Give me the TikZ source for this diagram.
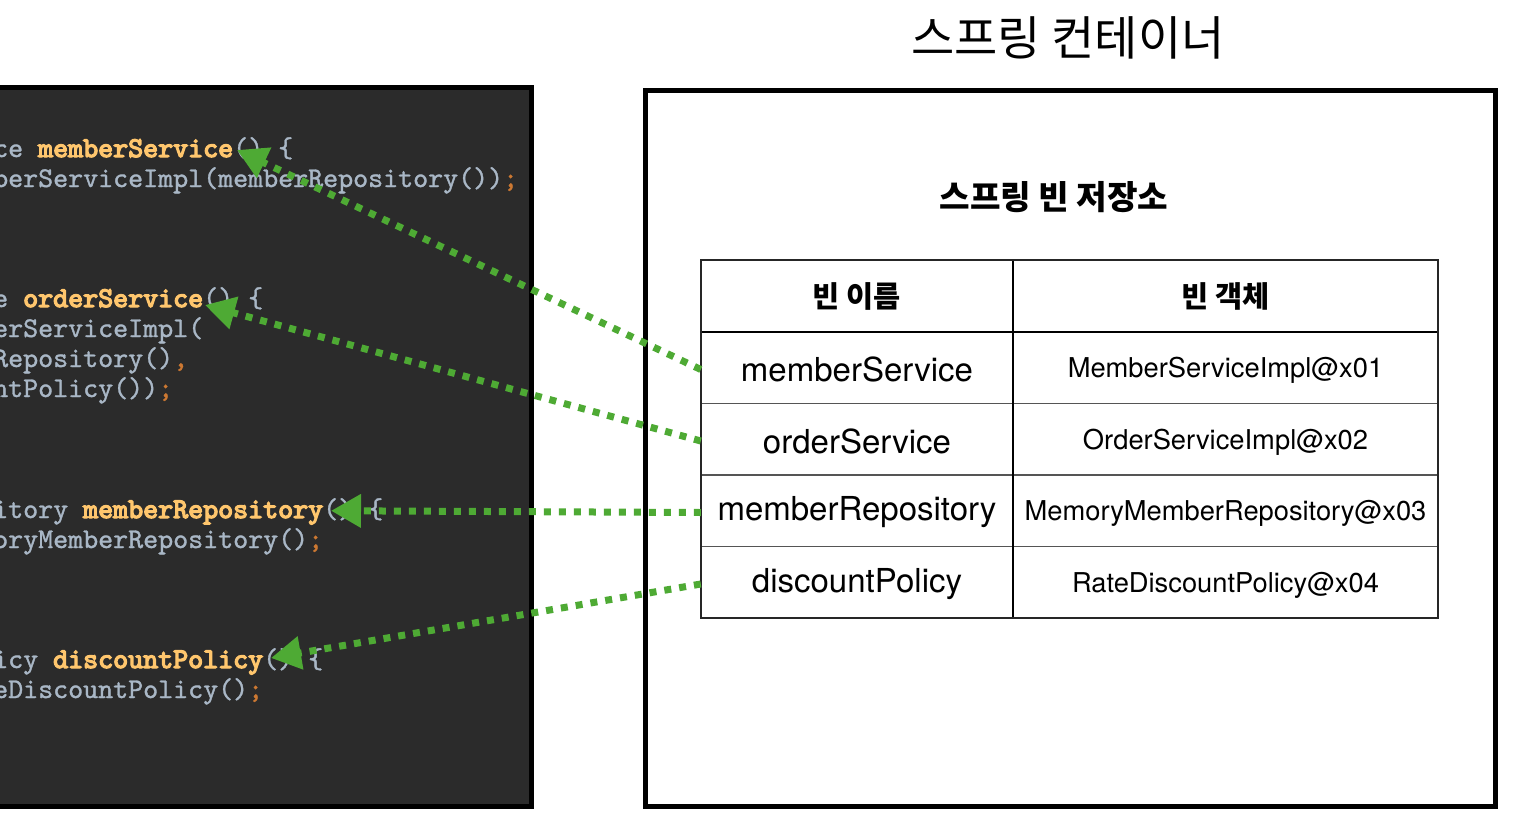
\documentclass[tikz,border=0pt]{standalone}
\usepackage{fontspec}
\setmainfont{TeX Gyre Heros}
\newfontfamily\kr{Noto Sans CJK KR}
\newfontfamily\codefont{lmmono10-regular.otf}[UprightFeatures={FakeBold=1.2}, BoldFont=lmmono10-regular.otf, BoldFeatures={FakeBold=4.5}]
\usetikzlibrary{arrows.meta}
\definecolor{panel}{RGB}{43,43,43}
\definecolor{cgray}{RGB}{169,183,198}
\definecolor{corange}{RGB}{255,198,109}
\definecolor{cpunct}{RGB}{204,120,50}
\definecolor{arrowgreen}{RGB}{78,170,52}
\definecolor{gridgray}{RGB}{85,85,85}
\tikzset{
  codeline/.style={anchor=base west, inner sep=0pt, font=\codefont\fontsize{28.57}{30}\selectfont, text=cgray},
  cellL/.style={minimum width=312pt, minimum height=71.5pt, inner sep=0pt, font=\fontsize{33}{36}\selectfont},
  cellR/.style={minimum width=425pt, minimum height=71.5pt, inner sep=0pt, font=\fontsize{27.3}{30}\selectfont},
  headtext/.style={inner sep=0pt, font=\kr\bfseries\fontsize{29.5}{32}\selectfont},
  conn/.style={draw=arrowgreen, line width=7pt, dash pattern=on 7pt off 8pt, -{Triangle[length=30pt,width=32pt]}},
  frame/.style={draw=black, line width=5pt},
}
\newcommand{\mname}[1]{\textcolor{corange}{\bfseries #1}}
\newcommand{\pnct}[1]{\textcolor{cpunct}{#1}}
\begin{document}
\begin{tikzpicture}[x=1pt,y=-1pt]
\useasboundingbox (0,0) rectangle (1518,822);
% code panel
\begin{scope}
  \clip (0,0) rectangle (1518,822);
  \fill[panel] (-20,87.5) rectangle (531.5,806.5);
  \draw[frame] (-20,87.5) -- (531.5,87.5) -- (531.5,806.5) -- (-20,806.5);
  \node[codeline] (c1) at (-7,157) {ce \mname{memberService}() \{};
  \node[codeline] (c2) at (-7,187) {berServiceImpl(memberRepository())\pnct{;}};
  \node[codeline] (c3) at (-7,307) {e \mname{orderService}() \{};
  \node[codeline] (c4) at (-7,337) {erServiceImpl(};
  \node[codeline] (c5) at (-7,367) {Repository()\pnct{,}};
  \node[codeline] (c6) at (-7,397) {ntPolicy())\pnct{;}};
  \node[codeline] (c7) at (-7,518) {itory \mname{memberRepository}() \{};
  \node[codeline] (c8) at (-7,548) {oryMemberRepository()\pnct{;}};
  \node[codeline] (c9) at (-7,668) {icy \mname{discountPolicy}() \{};
  \node[codeline] (c10) at (-7,698) {eDiscountPolicy()\pnct{;}};
\end{scope}
% container
\draw[frame] (645.5,90) rectangle (1495,806.5);
\node[inner sep=0pt, font=\kr\fontsize{47}{52}\selectfont] (title) at (1068,38) {스프링 컨테이너};
\node[inner sep=0pt, font=\kr\bfseries\fontsize{33.2}{36}\selectfont] (store) at (1054,197) {스프링 빈 저장소};
% table grid
\draw[gridgray, line width=1.3pt] (701,403.5) -- (1438,403.5);
\draw[gridgray, line width=1.3pt] (701,475) -- (1438,475);
\draw[gridgray, line width=1.3pt] (701,546.5) -- (1438,546.5);
\draw[black, line width=1.3pt] (1013,260) -- (1013,618);
\draw[black, line width=2.5pt] (701,332) -- (1438,332);
\draw[black!85, line width=2pt] (701,260) rectangle (1438,618);
% headers
\node[headtext] (h1) at (857,296) {빈 이름};
\node[headtext] (h2) at (1225.5,296) {빈 객체};
% cells
\node[cellL] (n1) at (857,369.5) {memberService};
\node[cellL] (n2) at (857,441) {orderService};
\node[cellL] (n3) at (857,512.5) {memberRepository};
\node[cellL] (n4) at (857,584) {discountPolicy};
\node[cellR] (o1) at (1225.5,370.5) {MemberServiceImpl@x01};
\node[cellR] (o2) at (1225.5,442) {OrderServiceImpl@x02};
\node[cellR] (o3) at (1225.5,513.5) {MemoryMemberRepository@x03};
\node[cellR] (o4) at (1225.5,585) {RateDiscountPolicy@x04};
% arrow tips
\coordinate (t1) at (237,150);
\coordinate (t2) at (205,305);
\coordinate (t3) at (331,510.75);
\coordinate (t4) at (271,658);
\draw[conn] (n1.west) -- (t1);
\draw[conn] (n2.west) -- (t2);
\draw[conn] (n3.west) -- (t3);
\draw[conn] (n4.west) -- (t4);
\end{tikzpicture}
\end{document}
